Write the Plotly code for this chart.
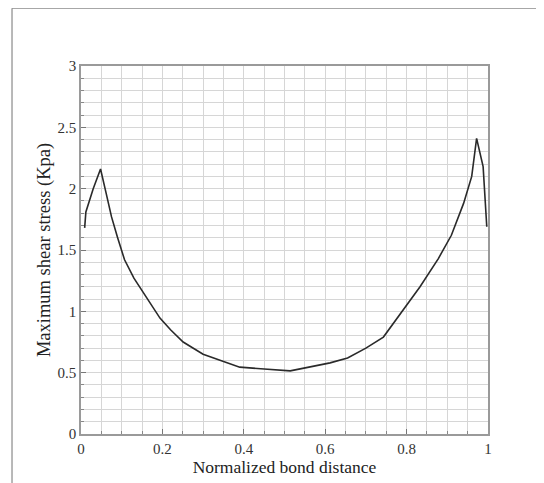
import plotly.graph_objects as go

x_vals = [0.009, 0.012, 0.03, 0.048, 0.062, 0.075, 0.09, 0.107, 0.13, 0.16, 0.194, 0.22, 0.251,
          0.30, 0.35, 0.39, 0.45, 0.514, 0.56, 0.612, 0.655, 0.70, 0.743, 0.79, 0.833, 0.878,
          0.91, 0.94, 0.96, 0.972, 0.988, 0.997]
y_vals = [1.68, 1.81, 2.0, 2.16, 1.96, 1.77, 1.6, 1.42, 1.27, 1.12, 0.945, 0.85, 0.75,
          0.65, 0.59, 0.545, 0.53, 0.515, 0.545, 0.58, 0.62, 0.70, 0.79, 1.0, 1.2, 1.43,
          1.62, 1.88, 2.1, 2.41, 2.18, 1.69]

x_ticks = [0, 0.2, 0.4, 0.6, 0.8, 1]
x_tick_text = ["0", "0.2", "0.4", "0.6", "0.8", "1"]
y_ticks = [0, 0.5, 1, 1.5, 2, 2.5, 3]
y_tick_text = ["0", "0.5", "1", "1.5", "2", "2.5", "3"]

font_family = "Liberation Serif"

fig = go.Figure()
fig.add_trace(go.Scatter(x=x_vals, y=y_vals, mode="lines",
                         line=dict(color="#2a2a2a", width=1.6), showlegend=False))

axis_common = dict(
    showline=True, linecolor="#9a9a9a", linewidth=1.5, mirror=True,
    showgrid=True, gridcolor="#d6d6d6", gridwidth=1,
    ticks="inside", ticklen=5, tickcolor="#777", zeroline=False,
    tickfont=dict(family=font_family, size=15, color="#333"),
)

fig.update_xaxes(
    range=[0, 1], tickvals=x_ticks, ticktext=x_tick_text,
    minor=dict(dtick=0.05, showgrid=True, gridcolor="#d6d6d6", ticks="inside", ticklen=3, tickcolor="#888"),
    title=dict(text="Normalized bond distance", font=dict(family=font_family, size=17.5, color="#222"), standoff=0),
    **axis_common,
)
fig.update_yaxes(
    range=[0, 3], tickvals=y_ticks, ticktext=y_tick_text,
    minor=dict(dtick=0.1, showgrid=True, gridcolor="#d6d6d6", ticks="inside", ticklen=3, tickcolor="#888"),
    title=dict(text="Maximum shear stress (Kpa)", font=dict(family=font_family, size=18.5, color="#222"), standoff=2),
    **axis_common,
)

fig.update_layout(
    width=544, height=483,
    font=dict(family=font_family),
    margin=dict(l=73, r=64, t=58, b=57),
    paper_bgcolor="white", plot_bgcolor="white",
)

# figure frame (left and top edges)
fig.add_shape(type="line", xref="paper", yref="paper", x0=-0.1695, x1=-0.1695, y0=-0.2, y1=1.157,
              line=dict(color="#8a8a8a", width=1.2))
fig.add_shape(type="line", xref="paper", yref="paper", x0=-0.1695, x1=1.2, y0=1.157, y1=1.157,
              line=dict(color="#8a8a8a", width=1.2))

fig.write_html("out.html")
